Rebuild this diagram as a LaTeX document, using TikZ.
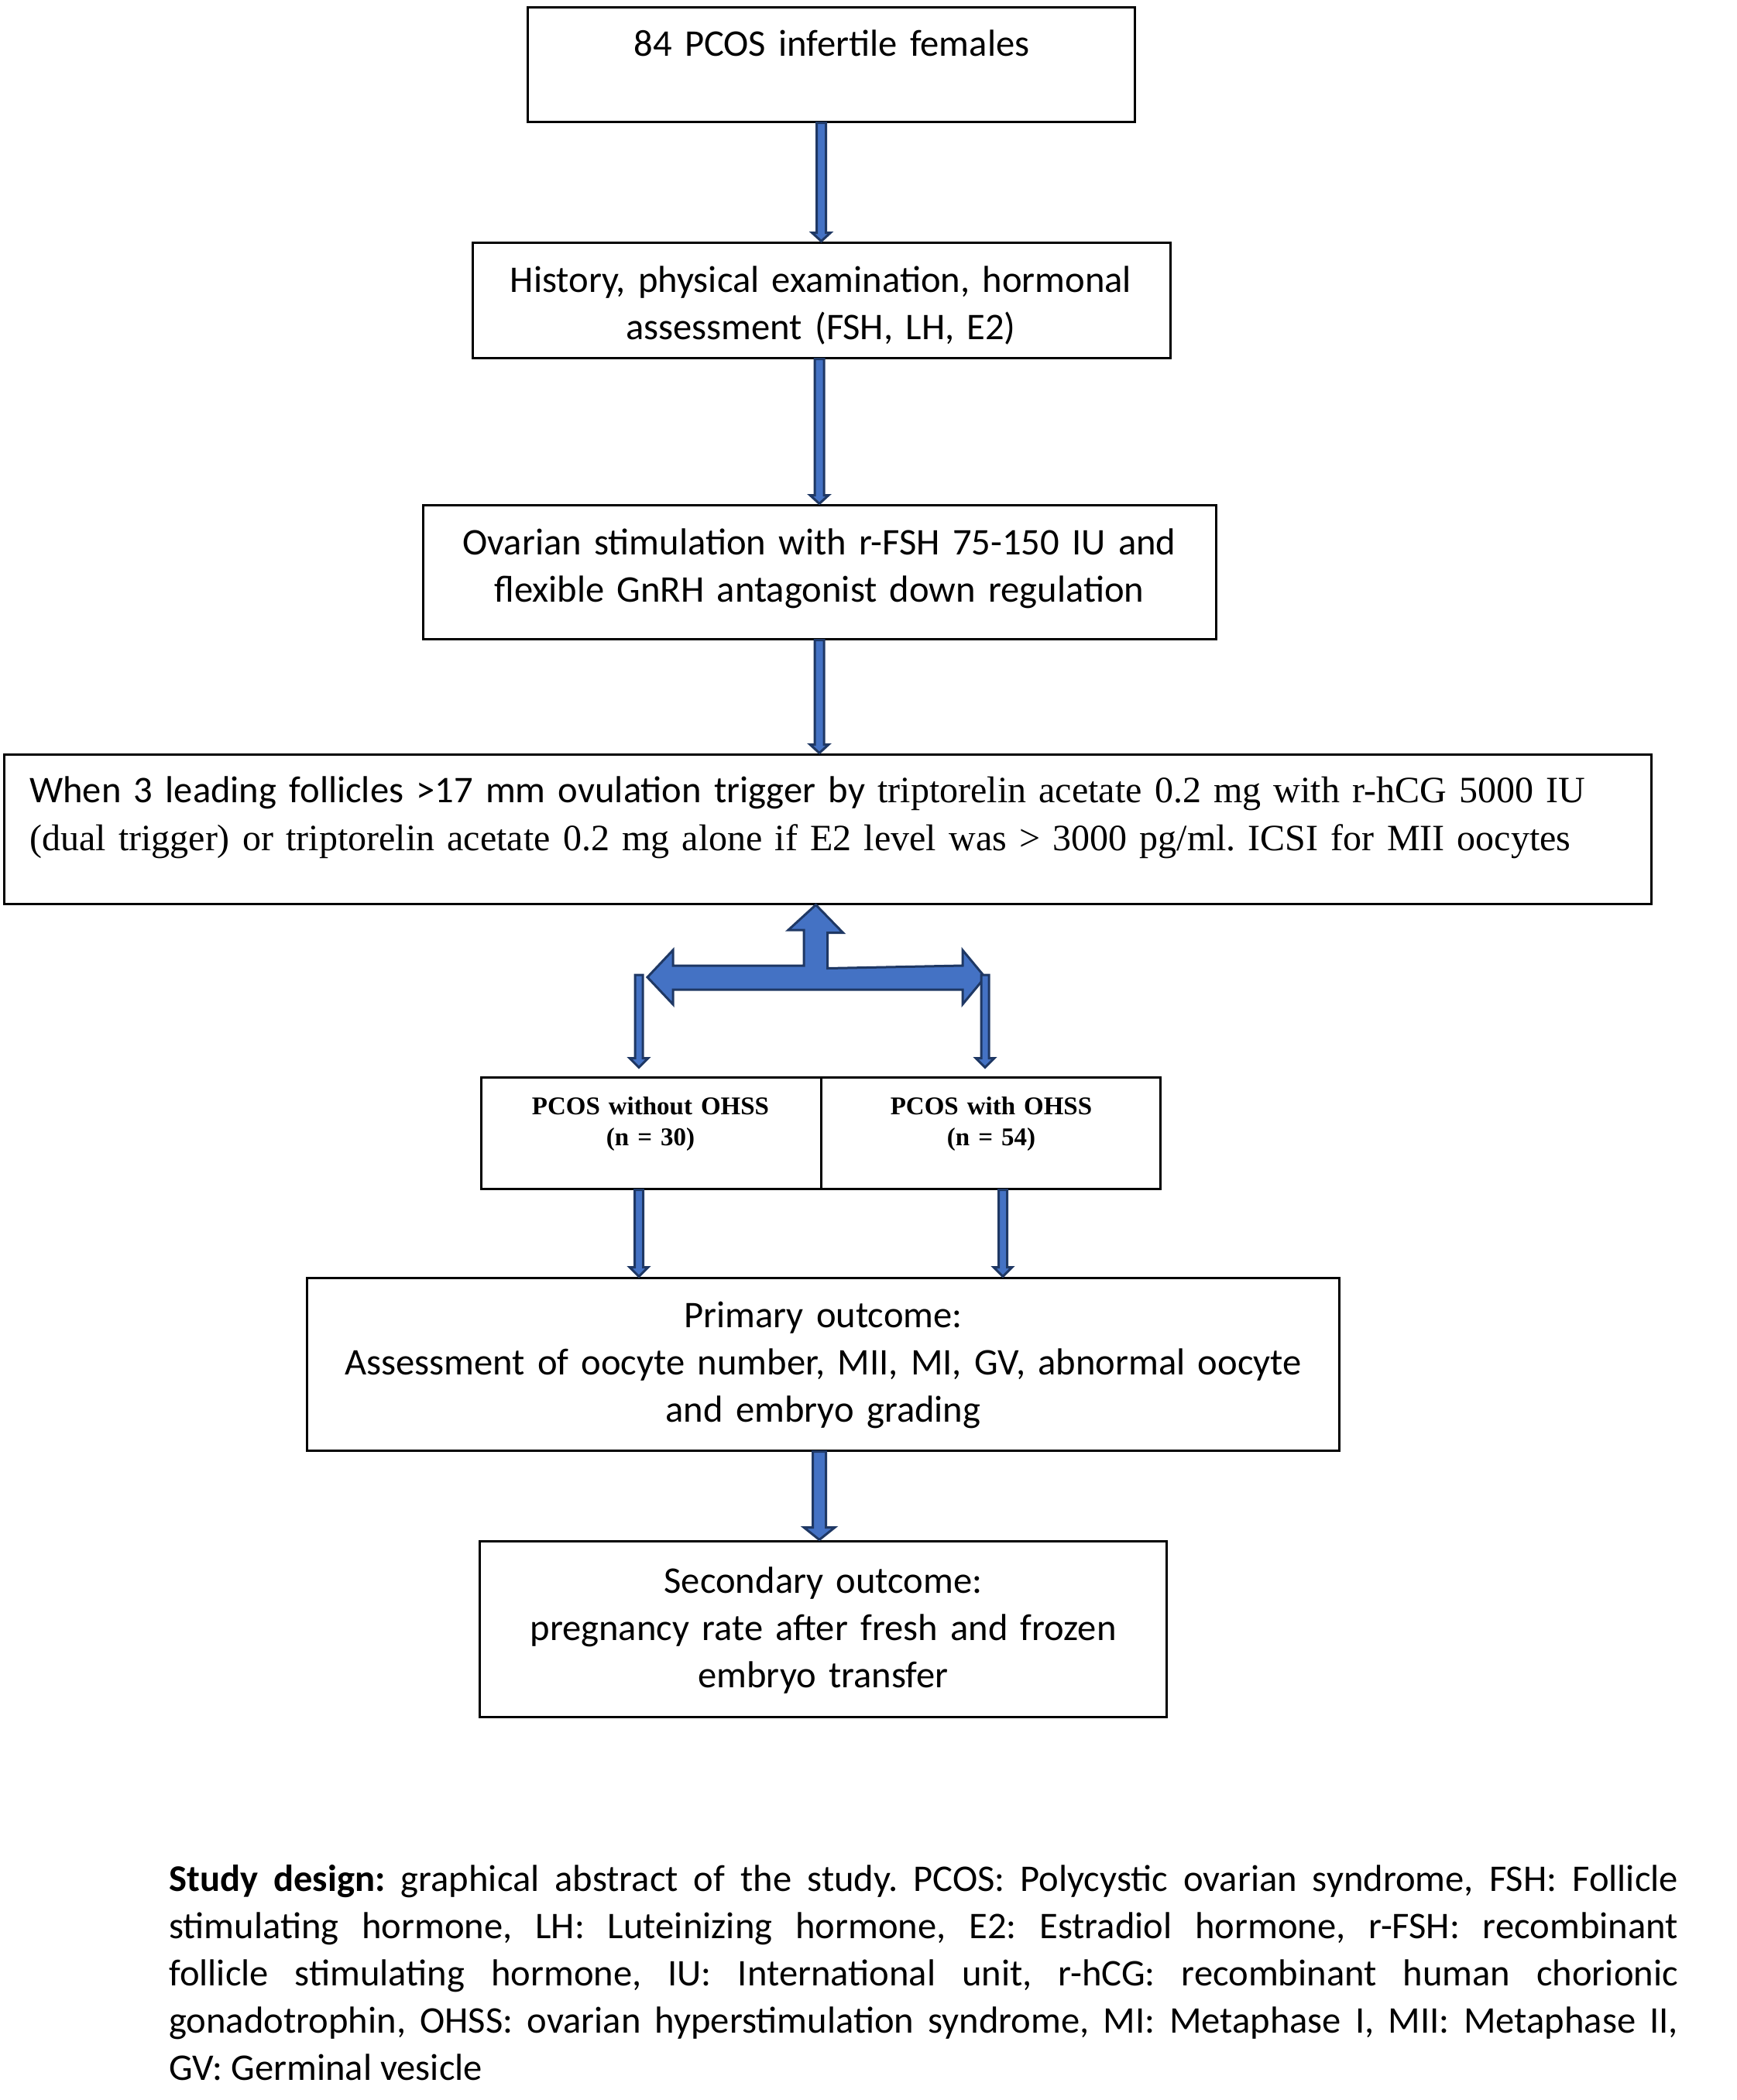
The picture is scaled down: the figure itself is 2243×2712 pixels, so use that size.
\documentclass[tikz,border=0pt]{standalone}
\usepackage{fontspec}
\setmainfont{Carlito}
\newfontfamily\tms{Liberation Serif}
\usetikzlibrary{calc}
\frenchspacing
\definecolor{afill}{HTML}{4472C4}
\definecolor{aline}{HTML}{1F3864}
\tikzset{
  box/.style={draw=black, line width=3pt, rectangle, inner sep=0pt},
  cal/.style={font=\frenchspacing\fontsize{48.6}{61}\selectfont, inner sep=0pt, anchor=base, align=center},
  tnrb/.style={font=\tms\bfseries\fontsize{33}{40}\selectfont, inner sep=0pt, anchor=base, align=center},
  arrowsty/.style={draw=aline, fill=afill, line width=3pt, line join=miter},
}
\newcommand{\varrow}[5]{% #1 top, #2 tip, #3 half shaft, #4 half head, #5 head length
  \draw[arrowsty] ($(#1)+(-#3,0)$) -- ($(#2)+(-#3,-#5)$) -- ($(#2)+(-#4,-#5)$) -- (#2)
   -- ($(#2)+(#4,-#5)$) -- ($(#2)+(#3,-#5)$) -- ($(#1)+(#3,0)$) -- cycle;}
\begin{document}
\begin{tikzpicture}[x=1pt,y=-1pt]
\useasboundingbox (0,0) rectangle (2243,2712);
% boxes
\node[box, minimum width=784pt, minimum height=148pt] (b1) at (1073,83) {};
\node[box, minimum width=901pt, minimum height=149pt] (b2) at (1060.5,387.5) {};
\node[box, minimum width=1024pt, minimum height=173pt] (b3) at (1058,738.5) {};
\node[box, minimum width=2127pt, minimum height=193pt] (b4) at (1068.5,1070.5) {};
\node[box, minimum width=439pt, minimum height=144pt] (s1) at (840.5,1463) {};
\node[box, minimum width=438pt, minimum height=144pt] (s2) at (1279,1463) {};
\node[box, minimum width=1333pt, minimum height=223pt] (p1) at (1062.5,1761.5) {};
\node[box, minimum width=887pt, minimum height=227pt] (p2) at (1062.5,2103.5) {};
% texts
\node[cal, text width=780pt] (t1) at (1074,72) {84 PCOS infertile females};
\node[cal, text width=890pt] (t2) at (1060,377) {History, physical examination, hormonal\\assessment (FSH, LH, E2)};
\node[cal, text width=1010pt] (t3) at (1058,716) {Ovarian stimulation with r-FSH 75-150 IU and\\flexible GnRH antagonist down regulation};
\node[cal, anchor=base west, align=left, text width=2080pt] (t4) at (38,1036)
  {When 3 leading follicles >17 mm ovulation trigger by {\tms\fontsize{48}{61}\selectfont triptorelin acetate 0.2 mg with r-hCG 5000 IU}\\[1.5pt]
   {\tms\fontsize{48}{61}\selectfont (dual trigger) or triptorelin acetate 0.2 mg alone if E2 level was > 3000 pg/ml. ICSI for MII oocytes}};
\node[tnrb, text width=430pt] (ts1) at (840,1439) {PCOS without OHSS\\(n = 30)};
\node[tnrb, text width=430pt] (ts2) at (1280,1439) {PCOS with OHSS\\(n = 54)};
\node[cal, text width=1320pt] (tp1) at (1063,1714) {Primary outcome:\\Assessment of oocyte number, MII, MI, GV, abnormal oocyte\\and embryo grading};
\node[cal, text width=880pt] (tp2) at (1063,2057) {Secondary outcome:\\pregnancy rate after fresh and frozen\\embryo transfer};
% caption
\node[cal, anchor=base west, align=justify, text width=1949pt] (cap) at (218,2442)
  {\hyphenpenalty=10000 \textbf{Study design:} graphical abstract of the study. PCOS: Polycystic ovarian syndrome, FSH: Follicle\linebreak
   stimulating hormone, LH: Luteinizing hormone, E2: Estradiol hormone, r-FSH: recombinant\linebreak
   follicle stimulating hormone, IU: International unit, r-hCG: recombinant human chorionic\linebreak
   gonadotrophin, OHSS: ovarian hyperstimulation syndrome, MI: Metaphase I, MII: Metaphase II,\linebreak
   GV: Germinal vesicle};
% straight arrows
\coordinate (a1t) at (b1.south -| b2.north);
\varrow{a1t}{b2.north}{6}{12}{11}
\coordinate (a2t) at (b2.south -| b3.north);
\varrow{a2t}{b3.north}{6}{12}{11}
\coordinate (a3b) at (b4.north -| b3.south);
\varrow{b3.south}{a3b}{6}{12}{11}
% T-shaped block arrow from the big box
\draw[arrowsty] ($(b4.south)+(-15,0)$) -- ++(35,36) -- ++(-20,0) -- ++(0,46) -- (1243,1247) -- (1243,1227)
  -- (1272,1262) -- (1243,1297) -- (1243,1278) -- (869,1278) -- (869,1297) -- (836,1262) -- (869,1227)
  -- (869,1247) -- (1038,1247) -- (1038,1201) -- (1018,1201) -- cycle;
% thin arrows to the two groups
\coordinate (l1t) at (825,1259);
\coordinate (l1b) at ($(s1.north -| l1t)+(0,-11)$);
\varrow{l1t}{l1b}{5}{12}{12}
\coordinate (r1t) at (1272,1259);
\coordinate (r1b) at ($(s2.north -| r1t)+(0,-11)$);
\varrow{r1t}{r1b}{5}{12}{12}
% arrows to primary outcome
\coordinate (l2t) at (s1.south -| l1t);
\coordinate (l2b) at (p1.north -| l1t);
\varrow{l2t}{l2b}{5.5}{12}{12}
\coordinate (r2t) at (s2.south -| 1295,0);
\coordinate (r2b) at (p1.north -| 1295,0);
\varrow{r2t}{r2b}{5.5}{12}{12}
% arrow to secondary outcome
\coordinate (pt) at (p1.south -| b3.south);
\coordinate (pb) at (p2.north -| b3.south);
\varrow{pt}{pb}{8.5}{20}{16}
\end{tikzpicture}
\end{document}
